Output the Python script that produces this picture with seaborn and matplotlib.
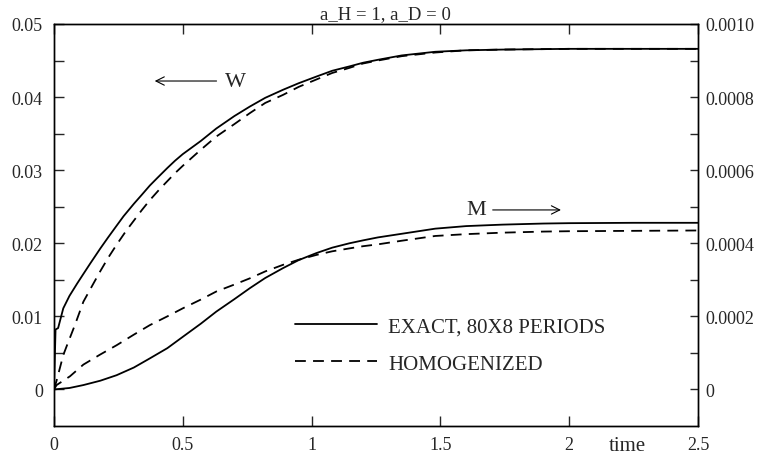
import matplotlib
matplotlib.use("Agg")
import matplotlib.pyplot as plt
import numpy as np
import pandas as pd
import seaborn as sns

# W curves (left axis)
t_w_exact = [0, 0.006, 0.016, 0.036, 0.06, 0.09, 0.114, 0.14, 0.18, 0.21, 0.243, 0.27, 0.31, 0.34,
             0.372, 0.40, 0.44, 0.47, 0.50, 0.57, 0.63, 0.70, 0.76, 0.82, 0.889, 0.95, 1.018, 1.08,
             1.147, 1.2, 1.257, 1.35, 1.48, 1.6, 1.74, 2.0, 2.25, 2.5]
w_exact = [0, 0.0082, 0.0084, 0.0111, 0.0128, 0.0145, 0.0158, 0.0172, 0.0193, 0.0208, 0.0224, 0.0237,
           0.0254, 0.0266, 0.0279, 0.0289, 0.0303, 0.0313, 0.0322, 0.034, 0.0357, 0.0374, 0.0387,
           0.0399, 0.041, 0.0419, 0.0428, 0.0436, 0.0442, 0.0447, 0.0451, 0.0457, 0.0462, 0.0464,
           0.0465, 0.0466, 0.0466, 0.0466]

t_w_homog = [0, 0.01, 0.036, 0.05, 0.081, 0.114, 0.15, 0.18, 0.21, 0.243, 0.28, 0.31, 0.34, 0.372,
             0.41, 0.44, 0.47, 0.50, 0.57, 0.63, 0.70, 0.76, 0.82, 0.889, 0.95, 1.018, 1.08, 1.147,
             1.2, 1.257, 1.35, 1.48, 1.6, 1.74, 2.0, 2.25, 2.5]
w_homog = [0, 0.0012, 0.0047, 0.006, 0.0088, 0.012, 0.0143, 0.0162, 0.018, 0.0198, 0.0217, 0.0231,
           0.0245, 0.0259, 0.0274, 0.0285, 0.0296, 0.0306, 0.0328, 0.0346, 0.0363, 0.0378, 0.0392,
           0.0403, 0.0414, 0.0424, 0.0433, 0.044, 0.0446, 0.045, 0.0456, 0.0461, 0.0464, 0.0465,
           0.0466, 0.0466, 0.0466]

# M curves (right axis)
t_m_exact = [0, 0.06, 0.114, 0.18, 0.243, 0.31, 0.372, 0.44, 0.50, 0.57, 0.63, 0.70, 0.76, 0.82,
             0.889, 0.95, 1.018, 1.08, 1.147, 1.2, 1.257, 1.35, 1.48, 1.6, 1.74, 1.9, 2.0, 2.25, 2.5]
m_exact = [0, 0.000004, 0.000012, 0.000024, 0.000039, 0.00006, 0.000085, 0.000113, 0.000144,
           0.00018, 0.000213, 0.000247, 0.000277, 0.000305, 0.000332, 0.000354, 0.000373,
           0.000388, 0.0004, 0.000408, 0.000416, 0.000426, 0.00044, 0.000447, 0.000451,
           0.000454, 0.000455, 0.000456, 0.000456]

t_m_homog = [0, 0.01, 0.062, 0.114, 0.178, 0.243, 0.31, 0.372, 0.44, 0.50, 0.57, 0.63, 0.70, 0.76,
             0.82, 0.889, 0.95, 1.018, 1.08, 1.147, 1.2, 1.257, 1.35, 1.48, 1.6, 1.74, 1.9, 2.0,
             2.25, 2.5]
m_homog = [0, 0.000012, 0.000036, 0.000068, 0.000095, 0.000121, 0.00015, 0.000176, 0.0002,
           0.000222, 0.000246, 0.000268, 0.000287, 0.000304, 0.000323, 0.000341, 0.000355,
           0.000368, 0.000378, 0.000386, 0.000392, 0.000397, 0.000407, 0.00042, 0.000425,
           0.000429, 0.000432, 0.000433, 0.000434, 0.000435]

x_ticks = [0, 0.5, 1, 1.5, 2, 2.5]
x_labels = ["0", "0.5", "1", "1.5", "2", "2.5"]
w_ticks = [0, 0.01, 0.02, 0.03, 0.04, 0.05]
w_labels = ["0", "0.01", "0.02", "0.03", "0.04", "0.05"]
m_ticks = [0, 0.0002, 0.0004, 0.0006, 0.0008, 0.0010]
m_labels = ["0", "0.0002", "0.0004", "0.0006", "0.0008", "0.0010"]

sns.set_style("ticks")
plt.rcParams["font.family"] = ["Liberation Serif", "DejaVu Serif"]

fig = plt.figure(figsize=(7.6, 4.6), dpi=100)
ax = fig.add_axes([54 / 760, 1 - 427 / 460, 644 / 760, 402 / 460])
ax2 = ax.twinx()

dash = (0, (6, 4))
sns.lineplot(x=t_w_exact, y=w_exact, ax=ax, color="k", lw=1.3, label="EXACT, 80X8 PERIODS")
sns.lineplot(x=t_w_homog, y=w_homog, ax=ax, color="k", lw=1.3, linestyle=dash, label="HOMOGENIZED")
sns.lineplot(x=t_m_exact, y=m_exact, ax=ax2, color="k", lw=1.3)
sns.lineplot(x=t_m_homog, y=m_homog, ax=ax2, color="k", lw=1.3, linestyle=dash)

ax.set_xlim(0, 2.5)
ax.set_ylim(-0.005, 0.05)
ax2.set_ylim(-0.0001, 0.001)

ax.set_xticks(x_ticks)
ax.set_xticklabels(x_labels)
ax.set_yticks(w_ticks)
ax.set_yticklabels(w_labels)
ax.set_yticks(np.arange(0.005, 0.05, 0.01), minor=True)
ax2.set_yticks(m_ticks)
ax2.set_yticklabels(m_labels)
ax2.set_yticks(np.arange(0.0001, 0.001, 0.0002), minor=True)

ax.tick_params(axis="x", which="major", direction="in", length=7, width=1, top=True,
               labelsize=13, pad=7)
ax.tick_params(axis="y", which="both", direction="in", length=7, width=1, labelsize=13, pad=8)
ax2.tick_params(axis="y", which="both", direction="in", length=6, width=1, labelsize=13, pad=5)

for a in (ax, ax2):
    for s in a.spines.values():
        s.set_visible(True)
        s.set_color("k")
        s.set_linewidth(1)

ax.set_ylabel("")
ax2.set_ylabel("")
ax.set_xlabel("time", fontsize=15)
ax.xaxis.set_label_coords(0.891, -0.025)
ax.set_title("a_H = 1, a_D = 0", fontsize=13.5, pad=4, x=0.515)

ax.annotate("", xy=(0.391, 0.0422), xytext=(0.631, 0.0422),
            arrowprops=dict(arrowstyle="->", lw=0.8, color="k", mutation_scale=15,
                            shrinkA=0, shrinkB=0))
ax.text(0.705, 0.0422, "W", fontsize=16, ha="center", va="center")
ax.annotate("", xy=(1.968, 0.02456), xytext=(1.703, 0.02456),
            arrowprops=dict(arrowstyle="->", lw=0.8, color="k", mutation_scale=15,
                            shrinkA=0, shrinkB=0))
ax.text(1.638, 0.02456, "M", fontsize=16, ha="center", va="center")

ax.legend(loc="upper left", bbox_to_anchor=(0.374, 0.272), frameon=False, fontsize=15,
          handlelength=3.94, handletextpad=0.53, labelspacing=0.85, borderpad=0,
          borderaxespad=0)

fig.savefig("out.png", dpi=100)
